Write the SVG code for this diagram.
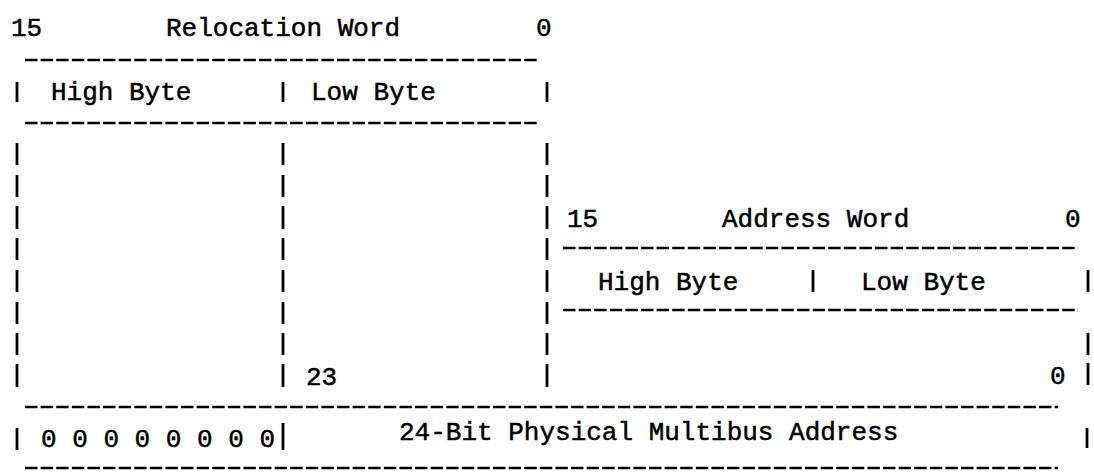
<svg xmlns="http://www.w3.org/2000/svg" width="1094" height="476" viewBox="0 0 1094 476">
<style>
text{font-family:"Liberation Mono","DejaVu Sans Mono",monospace;font-size:26px;fill:#000;stroke:#000;stroke-width:0.5}
.hl{stroke:#000;stroke-width:2.6;stroke-dasharray:12.5 3.1;fill:none}
.vb{stroke:#000;stroke-width:2.8;fill:none}
</style>
<rect width="1094" height="476" fill="#fff"/>
<g id="relocation-word">
<text x="11" y="36">15</text>
<text x="166" y="36">Relocation Word</text>
<text x="536" y="36">0</text>
<line class="hl" x1="25" y1="60" x2="538" y2="60"/>
<text x="51" y="100">High Byte</text>
<text x="311" y="100">Low Byte</text>
<line class="hl" x1="25" y1="123" x2="538" y2="123"/>
<path class="vb" d="M17 82V102M283 82V102M547 82V102
M17 143V165M283 143V165M547 143V165
M17 175V197M283 175V197M547 175V197
M17 206V229M283 206V229M547 206V229
M17 238V260M283 238V260M547 238V260
M17 270V292M283 270V292M547 270V292
M17 302V324M283 302V324M547 302V324
M17 333V355M283 333V355M547 333V355
M17 364V387M283 364V387M547 364V387"/>
<text x="306" y="385">23</text>
</g>
<g id="address-word">
<text x="567" y="227">15</text>
<text x="722" y="227">Address Word</text>
<text x="1065" y="227">0</text>
<line class="hl" x1="563" y1="248" x2="1078" y2="248"/>
<text x="598" y="290">High Byte</text>
<text x="861" y="290">Low Byte</text>
<path class="vb" d="M813 270V292M1088 270V292M1088 333V355M1088 363V385"/>
<line class="hl" x1="563" y1="310" x2="1078" y2="310"/>
<text x="1050" y="384">0</text>
</g>
<g id="physical-address">
<line class="hl" x1="25" y1="407" x2="1058" y2="407"/>
<text x="41" y="447">0 0 0 0 0 0 0 0</text>
<text x="399" y="440">24-Bit Physical Multibus Address</text>
<path class="vb" d="M17 428V450M283 423V450M1087 428V448"/>
<line class="hl" x1="25" y1="468" x2="1058" y2="468"/>
</g>
</svg>
